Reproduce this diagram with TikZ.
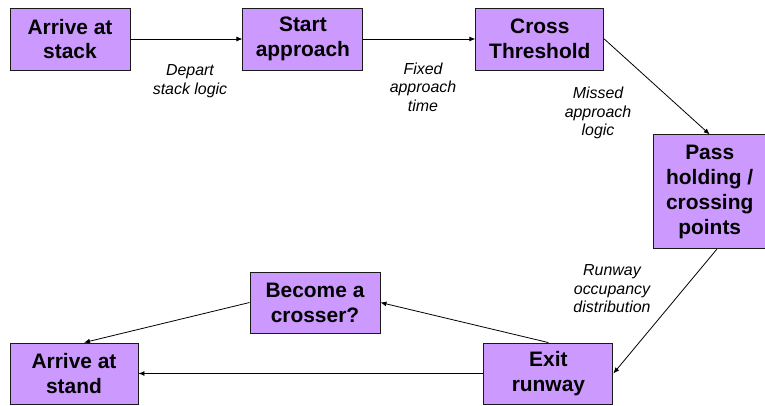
\documentclass[tikz,border=0pt]{standalone}
\usepackage{fontspec}
\setmainfont{Liberation Sans}
\usepackage{xcolor}
\usetikzlibrary{arrows.meta,positioning}
\definecolor{FlowLilac}{HTML}{CC99FF}
\definecolor{FlowEdge}{HTML}{1A1A1A}

\begin{document}
\begin{tikzpicture}[
  x=1bp, y=1bp,
  stepbox/.style={draw=FlowEdge, line width=0.9bp, fill=FlowLilac, minimum width=120bp, minimum height=62bp, inner sep=2bp, align=center, font=\fontsize{21}{25}\selectfont\bfseries},
  note/.style={align=center, inner sep=0bp, font=\fontsize{16}{18.5}\selectfont\itshape},
  link/.style={-{Latex[length=6bp,width=5bp]}, line width=0.8bp, draw=black}
]
  \useasboundingbox (0,0) rectangle (765,-405);

  \node[stepbox] (stack) at (70,-39) {Arrive at\\stack};
  \node[stepbox, right=112bp of stack] (approach) {Start\\approach};
  \node[stepbox, minimum width=128bp, right=112bp of approach] (threshold) {Cross\\Threshold};
  \node[stepbox, minimum width=112bp, minimum height=114bp, below right=64bp and 49bp of threshold] (holding) {Pass\\holding /\\crossing\\points};
  \node[stepbox, minimum width=128bp, minimum height=61bp] (stand) at (74,-373.5) {Arrive at\\stand};
  \node[stepbox, minimum width=129bp, minimum height=61bp, right=345bp of stand] (exit) {Exit\\runway};
  \node[stepbox, minimum width=130bp, minimum height=61bp] (crosser) at (315,-302.5) {Become a\\crosser?};

  \node[note] (departlbl) at (190,-81) {Depart\\stack logic};
  \node[note] (fixedlbl) at (423,-87) {Fixed\\approach\\time};
  \node[note] (missedlbl) at (598,-113) {Missed\\approach\\logic};
  \node[note] (runwaylbl) at (612,-289) {Runway\\occupancy\\distribution};

  \draw[link] (stack) -- (approach);
  \draw[link] (approach) -- (threshold);
  \draw[link] (threshold.east) -- (holding.north);
  \draw[link] ([xshift=7bp]holding.south) -- (exit.east);
  \draw[link] (exit.north) -- (crosser.east);
  \draw[link] (crosser.west) -- ([xshift=10bp]stand.north);
  \draw[link] (exit) -- (stand);
\end{tikzpicture}
\end{document}
